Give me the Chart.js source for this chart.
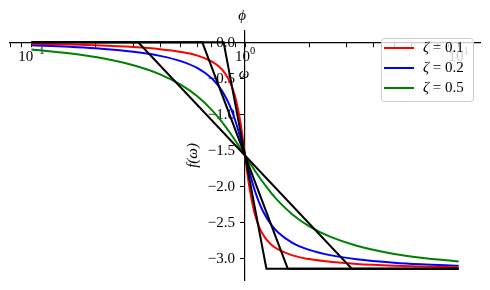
<!DOCTYPE html>
<html lang="en">
<head>
<meta charset="UTF-8">
<title>Phase response</title>
<script src="https://cdn.jsdelivr.net/npm/chart.js"></script>
<style>
    body {
        margin: 0;
        padding: 0;
        background-color: #fff;
    }
    #wrap {
        width: 490px;
        height: 290px;
    }
</style>
</head>
<body>
<div id="wrap"><canvas id="phaseChart" width="490" height="290"></canvas></div>
<script>
// frequency samples (log axis)
const omega = [0.1, 0.15, 0.2, 0.3, 0.4, 0.5, 0.6, 0.7, 0.75, 0.8, 0.85, 0.9, 0.95, 0.98, 0.99, 1,
               1.01, 1.02, 1.053, 1.111, 1.176, 1.25, 1.333, 1.429, 1.667, 2, 2.5, 3.333, 5, 6.667, 10];

// phase curves
const phaseZeta01 = [-0.020, -0.031, -0.042, -0.066, -0.095, -0.133, -0.185, -0.268, -0.330, -0.418, -0.550, -0.758, -1.097, -1.371, -1.471, -1.571,
                     -1.671, -1.771, -2.045, -2.384, -2.592, -2.724, -2.812, -2.874, -2.957, -3.009, -3.047, -3.076, -3.100, -3.111, -3.122];
const phaseZeta02 = [-0.040, -0.061, -0.083, -0.131, -0.188, -0.261, -0.359, -0.502, -0.601, -0.727, -0.886, -1.085, -1.320, -1.470, -1.521, -1.571,
                     -1.621, -1.672, -1.822, -2.057, -2.256, -2.415, -2.541, -2.640, -2.783, -2.881, -2.954, -3.011, -3.059, -3.081, -3.102];
const phaseZeta05 = [-0.101, -0.152, -0.205, -0.318, -0.444, -0.588, -0.753, -0.941, -1.043, -1.148, -1.255, -1.363, -1.469, -1.530, -1.551, -1.571,
                     -1.591, -1.612, -1.673, -1.779, -1.887, -1.994, -2.099, -2.201, -2.389, -2.554, -2.697, -2.823, -2.937, -2.989, -3.041];

const zetaNames = ['0.1', '0.2', '0.5'];
const zetaColors = ['#ff0000', '#0000ff', '#008000'];

// straight-line approximations: break frequencies
const asymLow = [0.794, 0.631, 0.316];
const asymHigh = [1.259, 1.585, 3.162];
const asymLevels = [0, -3.1416];
const omegaEnds = [0.1, 10];

const xTicks = [0.08, 0.09, 0.1, 0.2, 0.3, 0.4, 0.5, 0.6, 0.7, 0.8, 0.9, 1, 2, 3, 4, 5, 6, 7, 8, 9, 10];
const xMajor = [0.1, 1, 10];
const xMajorExp = ['\u22121', '0', '1'];
const yTicks = [-3, -2.5, -2, -1.5, -1, -0.5, 0];

const SERIF = '"Liberation Serif", "DejaVu Serif", serif';

function pts(ys) {
    return omega.map((w, i) => ({ x: w, y: ys[i] }));
}

const datasets = [];
for (let i = 0; i < 3; i++) {
    datasets.push({
        label: 'asym' + i,
        data: [
            { x: omegaEnds[0], y: asymLevels[0] },
            { x: asymLow[i], y: asymLevels[0] },
            { x: asymHigh[i], y: asymLevels[1] },
            { x: omegaEnds[1], y: asymLevels[1] }
        ],
        borderColor: '#000',
        borderWidth: 2,
        pointRadius: 0,
        tension: 0,
        order: 0
    });
}
[phaseZeta01, phaseZeta02, phaseZeta05].forEach((ys, i) => {
    datasets.push({
        label: '\u03b6 = ' + zetaNames[i],
        data: pts(ys),
        borderColor: zetaColors[i],
        borderWidth: 2,
        pointRadius: 0,
        cubicInterpolationMode: 'monotone',
        order: 1
    });
});

// axis labels, tick labels (with exponents), and the legend box
const annotate = {
    id: 'annotate',
    beforeDatasetsDraw(chart) {
        const { ctx, scales: { x, y } } = chart;
        const y0 = y.getPixelForValue(0);
        const x0 = x.getPixelForValue(1);
        ctx.save();
        ctx.fillStyle = '#000';
        ctx.textBaseline = 'alphabetic';
        xMajor.forEach((v, i) => {
            const px = x.getPixelForValue(v);
            ctx.font = '15px ' + SERIF;
            const w1 = ctx.measureText('10').width;
            ctx.font = '10.5px ' + SERIF;
            const w2 = ctx.measureText(xMajorExp[i]).width;
            const left = px - (w1 + w2) / 2;
            ctx.textAlign = 'left';
            ctx.font = '15px ' + SERIF;
            ctx.fillText('10', left, y0 + 19);
            ctx.font = '10.5px ' + SERIF;
            ctx.fillText(xMajorExp[i], left + w1, y0 + 12);
        });
        ctx.font = '15px ' + SERIF;
        ctx.textAlign = 'right';
        ctx.textBaseline = 'middle';
        yTicks.forEach(v => {
            const txt = (v < 0 ? '\u2212' : '') + Math.abs(v).toFixed(1);
            ctx.fillText(txt, x0 - 10, y.getPixelForValue(v) + 1);
        });
        ctx.textBaseline = 'alphabetic';
        ctx.font = 'italic 15px ' + SERIF;
        ctx.textAlign = 'center';
        ctx.fillText('\u03c9', x0 - 1, y0 + 36);
        ctx.fillText('\u03d5', x0 - 3, 20);
        ctx.translate(x0 - 48, y.getPixelForValue(-1.57));
        ctx.rotate(-Math.PI / 2);
        ctx.fillText('f(\u03c9)', 0, 0);
        ctx.restore();
    },
    afterDraw(chart) {
        const { ctx, chartArea } = chart;
        const right = chartArea.right - 7;
        const top = chartArea.top + 7;
        const w = 92, h = 63;
        const left = right - w;
        ctx.save();
        ctx.beginPath();
        ctx.roundRect(left + 0.5, top + 0.5, w, h, 3);
        ctx.fillStyle = 'rgba(255,255,255,0.8)';
        ctx.fill();
        ctx.strokeStyle = '#cccccc';
        ctx.lineWidth = 1;
        ctx.stroke();
        zetaNames.forEach((z, i) => {
            const ry = top + 10 + i * 20;
            ctx.beginPath();
            ctx.moveTo(left + 3, ry);
            ctx.lineTo(left + 33, ry);
            ctx.strokeStyle = zetaColors[i];
            ctx.lineWidth = 2;
            ctx.stroke();
            ctx.fillStyle = '#000';
            ctx.textBaseline = 'middle';
            ctx.textAlign = 'left';
            ctx.font = 'italic 15px ' + SERIF;
            ctx.fillText('\u03b6', left + 42, ry);
            const wz = ctx.measureText('\u03b6').width;
            ctx.font = '15px ' + SERIF;
            ctx.fillText(' = ' + z, left + 42 + wz, ry);
        });
        ctx.restore();
    }
};

new Chart(document.getElementById('phaseChart'), {
    type: 'line',
    data: { datasets: datasets },
    plugins: [annotate],
    options: {
        responsive: false,
        animation: false,
        layout: { padding: { left: 10, right: 10, top: 31, bottom: 10 } },
        plugins: {
            legend: { display: false },
            tooltip: { enabled: false }
        },
        scales: {
            x: {
                type: 'logarithmic',
                position: { y: 0 },
                min: 0.0794,
                max: 12.59,
                afterBuildTicks: (s) => { s.ticks = xTicks.map(v => ({ value: v })); },
                afterFit: (s) => { s.paddingLeft = 0; s.paddingRight = 0; },
                ticks: { display: false },
                grid: { display: true, drawOnChartArea: false, drawTicks: true, tickLength: 4, color: '#000' },
                border: { display: true, color: '#000', width: 1.2 }
            },
            y: {
                type: 'linear',
                position: { x: 1 },
                min: -3.299,
                max: 0.157,
                afterBuildTicks: (s) => { s.ticks = yTicks.map(v => ({ value: v })); },
                afterFit: (s) => { s.paddingTop = 0; s.paddingBottom = 0; },
                ticks: { display: false },
                grid: { display: true, drawOnChartArea: false, drawTicks: true, tickLength: 4, color: '#000' },
                border: { display: true, color: '#000', width: 1.2 }
            }
        }
    }
});
</script>
</body>
</html>
